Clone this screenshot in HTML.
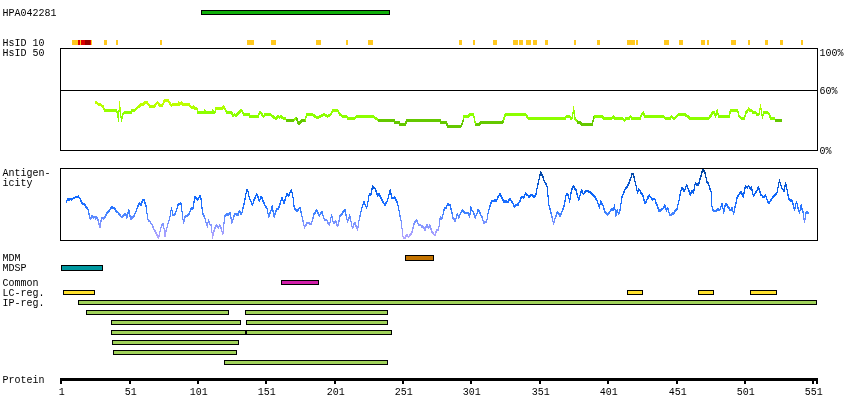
<!DOCTYPE html>
<html lang="en">
<head>
<meta charset="utf-8">
<title>HPA042281 protein plot</title>
<style>
html,body{margin:0;padding:0;background:#fff;}
body{width:850px;height:420px;overflow:hidden;position:relative;}
svg{position:absolute;left:0;top:0;display:block;}
text{font-family:"Liberation Mono","DejaVu Sans Mono",monospace;font-size:10px;fill:#000;letter-spacing:0px;}
</style>
</head>
<body>
<svg width="850" height="420" viewBox="0 0 850 420">
<defs>
<linearGradient id="bg" gradientUnits="userSpaceOnUse" x1="0" y1="168" x2="0" y2="240">
<stop offset="0" stop-color="#004196"/>
<stop offset="0.10" stop-color="#054BAF"/>
<stop offset="0.25" stop-color="#0A5ADC"/>
<stop offset="0.40" stop-color="#0F69FF"/>
<stop offset="0.54" stop-color="#2873FF"/>
<stop offset="0.61" stop-color="#3C82FF"/>
<stop offset="0.69" stop-color="#648CFF"/>
<stop offset="0.78" stop-color="#8296FF"/>
<stop offset="0.90" stop-color="#A5A0FF"/>
<stop offset="1" stop-color="#B4A5FF"/>
</linearGradient>
<linearGradient id="gg" gradientUnits="userSpaceOnUse" x1="0" y1="98" x2="0" y2="128">
<stop offset="0" stop-color="#C8FF00"/>
<stop offset="0.2" stop-color="#BEFF00"/>
<stop offset="0.36" stop-color="#AAFF00"/>
<stop offset="0.45" stop-color="#8CFF00"/>
<stop offset="1" stop-color="#8CFF00"/>
</linearGradient>
</defs>
<rect x="0" y="0" width="850" height="420" fill="#fff"/>
<g shape-rendering="crispEdges">

<rect x="72" y="40" width="6" height="5" fill="#FFC81E"/>
<rect x="78" y="40" width="2" height="5" fill="#DC0000"/>
<rect x="80" y="40" width="1" height="5" fill="#FFC81E"/>
<rect x="81" y="40" width="4" height="5" fill="#DC0000"/>
<rect x="85" y="40" width="5" height="5" fill="#960000"/>
<rect x="90" y="40" width="1" height="5" fill="#DC0000"/>
<rect x="91" y="40" width="1" height="5" fill="#FFC81E"/>
<rect x="104" y="40" width="3" height="5" fill="#FFC81E"/>
<rect x="116" y="40" width="2" height="5" fill="#FFC81E"/>
<rect x="160" y="40" width="2" height="5" fill="#FFC81E"/>
<rect x="247" y="40" width="7" height="5" fill="#FFC81E"/>
<rect x="271" y="40" width="5" height="5" fill="#FFC81E"/>
<rect x="316" y="40" width="5" height="5" fill="#FFC81E"/>
<rect x="346" y="40" width="2" height="5" fill="#FFC81E"/>
<rect x="368" y="40" width="5" height="5" fill="#FFC81E"/>
<rect x="459" y="40" width="3" height="5" fill="#FFC81E"/>
<rect x="473" y="40" width="2" height="5" fill="#FFC81E"/>
<rect x="493" y="40" width="4" height="5" fill="#FFC81E"/>
<rect x="513" y="40" width="5" height="5" fill="#FFC81E"/>
<rect x="519" y="40" width="4" height="5" fill="#FFC81E"/>
<rect x="526" y="40" width="5" height="5" fill="#FFC81E"/>
<rect x="533" y="40" width="4" height="5" fill="#FFC81E"/>
<rect x="545" y="40" width="3" height="5" fill="#FFC81E"/>
<rect x="574" y="40" width="2" height="5" fill="#FFC81E"/>
<rect x="597" y="40" width="3" height="5" fill="#FFC81E"/>
<rect x="627" y="40" width="8" height="5" fill="#FFC81E"/>
<rect x="636" y="40" width="2" height="5" fill="#FFC81E"/>
<rect x="664" y="40" width="5" height="5" fill="#FFC81E"/>
<rect x="679" y="40" width="4" height="5" fill="#FFC81E"/>
<rect x="701" y="40" width="4" height="5" fill="#FFC81E"/>
<rect x="707" y="40" width="2" height="5" fill="#FFC81E"/>
<rect x="731" y="40" width="5" height="5" fill="#FFC81E"/>
<rect x="748" y="40" width="2" height="5" fill="#FFC81E"/>
<rect x="765" y="40" width="3" height="5" fill="#FFC81E"/>
<rect x="780" y="40" width="3" height="5" fill="#FFC81E"/>
<rect x="801" y="40" width="2" height="5" fill="#FFC81E"/>


<rect x="60.5" y="48.5" width="757" height="102" fill="none" stroke="#000" stroke-width="1"/>
<rect x="60" y="90" width="758" height="1" fill="#000"/>
<rect x="60.5" y="168.5" width="757" height="72" fill="none" stroke="#000" stroke-width="1"/>


<rect x="201.5" y="10.5" width="188" height="4" fill="#0FAF0A" stroke="#000" stroke-width="1"/>
<rect x="405.5" y="255.5" width="28" height="5" fill="#C37300" stroke="#000" stroke-width="1"/>
<rect x="61.5" y="265.5" width="41" height="5" fill="#00989F" stroke="#000" stroke-width="1"/>
<rect x="281.5" y="280.5" width="37" height="4" fill="#D21EAA" stroke="#000" stroke-width="1"/>
<rect x="63.5" y="290.5" width="31" height="4" fill="#FFE12D" stroke="#000" stroke-width="1"/>
<rect x="627.5" y="290.5" width="15" height="4" fill="#FFE12D" stroke="#000" stroke-width="1"/>
<rect x="698.5" y="290.5" width="15" height="4" fill="#FFE12D" stroke="#000" stroke-width="1"/>
<rect x="750.5" y="290.5" width="26" height="4" fill="#FFE12D" stroke="#000" stroke-width="1"/>
<rect x="78.5" y="300.5" width="738" height="4" fill="#A0D25A" stroke="#000" stroke-width="1"/>
<rect x="86.5" y="310.5" width="142" height="4" fill="#A0D25A" stroke="#000" stroke-width="1"/>
<rect x="245.5" y="310.5" width="142" height="4" fill="#A0D25A" stroke="#000" stroke-width="1"/>
<rect x="111.5" y="320.5" width="129" height="4" fill="#A0D25A" stroke="#000" stroke-width="1"/>
<rect x="246.5" y="320.5" width="141" height="4" fill="#A0D25A" stroke="#000" stroke-width="1"/>
<rect x="111.5" y="330.5" width="134" height="4" fill="#A0D25A" stroke="#000" stroke-width="1"/>
<rect x="246.5" y="330.5" width="145" height="4" fill="#A0D25A" stroke="#000" stroke-width="1"/>
<rect x="112.5" y="340.5" width="126" height="4" fill="#A0D25A" stroke="#000" stroke-width="1"/>
<rect x="113.5" y="350.5" width="123" height="4" fill="#A0D25A" stroke="#000" stroke-width="1"/>
<rect x="224.5" y="360.5" width="163" height="4" fill="#A0D25A" stroke="#000" stroke-width="1"/>


<rect x="60" y="378" width="758" height="3" fill="#000"/>
<rect x="60" y="381" width="2" height="3" fill="#000"/>
<rect x="129" y="381" width="2" height="3" fill="#000"/>
<rect x="197" y="381" width="2" height="3" fill="#000"/>
<rect x="265" y="381" width="2" height="3" fill="#000"/>
<rect x="334" y="381" width="2" height="3" fill="#000"/>
<rect x="402" y="381" width="2" height="3" fill="#000"/>
<rect x="470" y="381" width="2" height="3" fill="#000"/>
<rect x="539" y="381" width="2" height="3" fill="#000"/>
<rect x="607" y="381" width="2" height="3" fill="#000"/>
<rect x="676" y="381" width="2" height="3" fill="#000"/>
<rect x="744" y="381" width="2" height="3" fill="#000"/>
<rect x="812" y="381" width="2" height="3" fill="#000"/>
<rect x="816" y="381" width="2" height="3" fill="#000"/>


<g fill="none" stroke-width="1" stroke-linejoin="bevel" transform="translate(0,-1)">
<polyline points="95.5,102 98,104 101,105 103.5,107 104.5,110.5 116,110.5 117.5,113 118.5,120.5 119.5,102.3 120.5,113 121.5,120.5 122.5,115 124,113 126,112.5 131,112.5 132,110.5 134.5,110.5 141,104.5 143,104.5 145,102.5 147,102.5 150,106.5 154,106.5 157.5,102.5 159.5,105 162.5,105 164.5,100.5 168,100.5 171.5,105.5 173,104.5 178,104.5 178.5,102.5 179.5,104.5 181.5,102.5 182.5,104.5 189,104.5 191,107 193,108 193.5,106.5 195,108.5 197,109 198,112.5 204,112.5 204.5,110.5 205.5,112.5 212,112.5 212.5,110.5 213.5,112.5 215,112.5 215.5,110 216,108.5 222.5,108.5 223.5,106.5 225,109 227,112.5 231.5,112.5 233,115.5 234.5,114.5 236,115.5 241.5,110 244,114.5 249,114.5 250,116.5 258,116.5 259.5,112.5 261,113 263.5,116.5 265,114.5 270.5,114.5 274.5,118 276.5,118 278.5,116 279.5,118 280.5,116 282.5,118 286,118.5" stroke="url(#gg)"/>
<polyline points="286,120.2 294,120.2" stroke="#64C800"/>
<polyline points="294,120 296.5,118" stroke="url(#gg)"/>
<polyline points="296.5,118 298.5,124 302,120.5 305.5,120.2" stroke="#64C800"/>
<polyline points="305.5,120 306.5,114.5 312.5,114.5 317,118 324,114.5 327.5,116.5 330.5,114.5 333,110.5 337.5,110.5 340,114.5 343,116.5 345,116.5 347,117 347.5,118.5 354.5,118.5 356.5,116.5 373.5,116.5 375.5,118.5 378,119.5" stroke="url(#gg)"/>
<polyline points="378,120.5 394,120.5 395,122.5 399,122.5 400,124.5 405.5,124.5 406.5,120.5 440,120.5 440.5,122.5 446.5,122.5 447.5,126.5 460.5,126.5 462.5,123.5 463.5,118" stroke="#64C800"/>
<polyline points="463.5,118 464,116.5 468.5,116.5 469.5,114.5 473.5,114.5 474.5,119 475.2,123" stroke="url(#gg)"/>
<polyline points="475.2,123 475.5,124.5 479.5,124.5 480.5,122.5 502.5,122.5 503.5,120.5" stroke="#64C800"/>
<polyline points="503.5,120.5 504.5,116.5 505.5,114.5 525.5,114.5 528.5,118.5 565,118.5 566.5,116.5 569.5,116.5 571,118.5 572,118.5 573,113 573.5,107 574.2,113 575,118.5 577,121" stroke="url(#gg)"/>
<polyline points="577,121 577.5,122.5 580.5,122.5 581.5,124.5 592.5,124.5 593,121 594,117.5" stroke="#64C800"/>
<polyline points="594,117.5 594.5,116.5 602.5,116.5 603.5,118.5 611.5,118.5 613.5,116.5 614.5,118.5 622.5,118.5 624.5,120.5 626,118.5 629,118.5 630.5,116.5 632,118.5 640,118.5 641.5,114.5 643.5,112.5 644.5,116.5 663.5,116.5 665.5,118.5 670,118.5 671.5,116.5 674,118.8 678.5,114.5 685,114.5 685,115.5 688.5,116.5 689.5,118.5 708.5,118.5 711,115.5 712.5,112.5 714.5,112.5 715.5,116.5 717.2,110 718.5,116.5 729,116.5 730.5,110.5 737.5,110.5 739,116 741.5,118.5 744.5,118.5 745.5,113 748,110.5 748.5,108 750,110.5 751.5,110.5 753,112.5 755.5,112.5 757,114.5 759,114.5 759.8,110 760.5,105.5 761.2,110 762.5,117.5 763.5,112.5 767.5,112.5 769.5,114.5 770.5,118.5 775,118.5" stroke="url(#gg)"/>
<polyline points="775,120.5 782,120.5" stroke="#64C800"/>
</g>
<g fill="none" stroke-width="1" stroke-linejoin="bevel" transform="translate(0,0)">
<polyline points="95.5,102 98,104 101,105 103.5,107 104.5,110.5 116,110.5 117.5,113 118.5,120.5 119.5,102.3 120.5,113 121.5,120.5 122.5,115 124,113 126,112.5 131,112.5 132,110.5 134.5,110.5 141,104.5 143,104.5 145,102.5 147,102.5 150,106.5 154,106.5 157.5,102.5 159.5,105 162.5,105 164.5,100.5 168,100.5 171.5,105.5 173,104.5 178,104.5 178.5,102.5 179.5,104.5 181.5,102.5 182.5,104.5 189,104.5 191,107 193,108 193.5,106.5 195,108.5 197,109 198,112.5 204,112.5 204.5,110.5 205.5,112.5 212,112.5 212.5,110.5 213.5,112.5 215,112.5 215.5,110 216,108.5 222.5,108.5 223.5,106.5 225,109 227,112.5 231.5,112.5 233,115.5 234.5,114.5 236,115.5 241.5,110 244,114.5 249,114.5 250,116.5 258,116.5 259.5,112.5 261,113 263.5,116.5 265,114.5 270.5,114.5 274.5,118 276.5,118 278.5,116 279.5,118 280.5,116 282.5,118 286,118.5" stroke="url(#gg)"/>
<polyline points="286,120.2 294,120.2" stroke="#64C800"/>
<polyline points="294,120 296.5,118" stroke="url(#gg)"/>
<polyline points="296.5,118 298.5,124 302,120.5 305.5,120.2" stroke="#64C800"/>
<polyline points="305.5,120 306.5,114.5 312.5,114.5 317,118 324,114.5 327.5,116.5 330.5,114.5 333,110.5 337.5,110.5 340,114.5 343,116.5 345,116.5 347,117 347.5,118.5 354.5,118.5 356.5,116.5 373.5,116.5 375.5,118.5 378,119.5" stroke="url(#gg)"/>
<polyline points="378,120.5 394,120.5 395,122.5 399,122.5 400,124.5 405.5,124.5 406.5,120.5 440,120.5 440.5,122.5 446.5,122.5 447.5,126.5 460.5,126.5 462.5,123.5 463.5,118" stroke="#64C800"/>
<polyline points="463.5,118 464,116.5 468.5,116.5 469.5,114.5 473.5,114.5 474.5,119 475.2,123" stroke="url(#gg)"/>
<polyline points="475.2,123 475.5,124.5 479.5,124.5 480.5,122.5 502.5,122.5 503.5,120.5" stroke="#64C800"/>
<polyline points="503.5,120.5 504.5,116.5 505.5,114.5 525.5,114.5 528.5,118.5 565,118.5 566.5,116.5 569.5,116.5 571,118.5 572,118.5 573,113 573.5,107 574.2,113 575,118.5 577,121" stroke="url(#gg)"/>
<polyline points="577,121 577.5,122.5 580.5,122.5 581.5,124.5 592.5,124.5 593,121 594,117.5" stroke="#64C800"/>
<polyline points="594,117.5 594.5,116.5 602.5,116.5 603.5,118.5 611.5,118.5 613.5,116.5 614.5,118.5 622.5,118.5 624.5,120.5 626,118.5 629,118.5 630.5,116.5 632,118.5 640,118.5 641.5,114.5 643.5,112.5 644.5,116.5 663.5,116.5 665.5,118.5 670,118.5 671.5,116.5 674,118.8 678.5,114.5 685,114.5 685,115.5 688.5,116.5 689.5,118.5 708.5,118.5 711,115.5 712.5,112.5 714.5,112.5 715.5,116.5 717.2,110 718.5,116.5 729,116.5 730.5,110.5 737.5,110.5 739,116 741.5,118.5 744.5,118.5 745.5,113 748,110.5 748.5,108 750,110.5 751.5,110.5 753,112.5 755.5,112.5 757,114.5 759,114.5 759.8,110 760.5,105.5 761.2,110 762.5,117.5 763.5,112.5 767.5,112.5 769.5,114.5 770.5,118.5 775,118.5" stroke="url(#gg)"/>
<polyline points="775,120.5 782,120.5" stroke="#64C800"/>
</g>
<g fill="none" stroke-width="1" stroke-linejoin="bevel" transform="translate(0,1)">
<polyline points="95.5,102 98,104 101,105 103.5,107 104.5,110.5 116,110.5 117.5,113 118.5,120.5 119.5,102.3 120.5,113 121.5,120.5 122.5,115 124,113 126,112.5 131,112.5 132,110.5 134.5,110.5 141,104.5 143,104.5 145,102.5 147,102.5 150,106.5 154,106.5 157.5,102.5 159.5,105 162.5,105 164.5,100.5 168,100.5 171.5,105.5 173,104.5 178,104.5 178.5,102.5 179.5,104.5 181.5,102.5 182.5,104.5 189,104.5 191,107 193,108 193.5,106.5 195,108.5 197,109 198,112.5 204,112.5 204.5,110.5 205.5,112.5 212,112.5 212.5,110.5 213.5,112.5 215,112.5 215.5,110 216,108.5 222.5,108.5 223.5,106.5 225,109 227,112.5 231.5,112.5 233,115.5 234.5,114.5 236,115.5 241.5,110 244,114.5 249,114.5 250,116.5 258,116.5 259.5,112.5 261,113 263.5,116.5 265,114.5 270.5,114.5 274.5,118 276.5,118 278.5,116 279.5,118 280.5,116 282.5,118 286,118.5" stroke="url(#gg)"/>
<polyline points="286,120.2 294,120.2" stroke="#64C800"/>
<polyline points="294,120 296.5,118" stroke="url(#gg)"/>
<polyline points="296.5,118 298.5,124 302,120.5 305.5,120.2" stroke="#64C800"/>
<polyline points="305.5,120 306.5,114.5 312.5,114.5 317,118 324,114.5 327.5,116.5 330.5,114.5 333,110.5 337.5,110.5 340,114.5 343,116.5 345,116.5 347,117 347.5,118.5 354.5,118.5 356.5,116.5 373.5,116.5 375.5,118.5 378,119.5" stroke="url(#gg)"/>
<polyline points="378,120.5 394,120.5 395,122.5 399,122.5 400,124.5 405.5,124.5 406.5,120.5 440,120.5 440.5,122.5 446.5,122.5 447.5,126.5 460.5,126.5 462.5,123.5 463.5,118" stroke="#64C800"/>
<polyline points="463.5,118 464,116.5 468.5,116.5 469.5,114.5 473.5,114.5 474.5,119 475.2,123" stroke="url(#gg)"/>
<polyline points="475.2,123 475.5,124.5 479.5,124.5 480.5,122.5 502.5,122.5 503.5,120.5" stroke="#64C800"/>
<polyline points="503.5,120.5 504.5,116.5 505.5,114.5 525.5,114.5 528.5,118.5 565,118.5 566.5,116.5 569.5,116.5 571,118.5 572,118.5 573,113 573.5,107 574.2,113 575,118.5 577,121" stroke="url(#gg)"/>
<polyline points="577,121 577.5,122.5 580.5,122.5 581.5,124.5 592.5,124.5 593,121 594,117.5" stroke="#64C800"/>
<polyline points="594,117.5 594.5,116.5 602.5,116.5 603.5,118.5 611.5,118.5 613.5,116.5 614.5,118.5 622.5,118.5 624.5,120.5 626,118.5 629,118.5 630.5,116.5 632,118.5 640,118.5 641.5,114.5 643.5,112.5 644.5,116.5 663.5,116.5 665.5,118.5 670,118.5 671.5,116.5 674,118.8 678.5,114.5 685,114.5 685,115.5 688.5,116.5 689.5,118.5 708.5,118.5 711,115.5 712.5,112.5 714.5,112.5 715.5,116.5 717.2,110 718.5,116.5 729,116.5 730.5,110.5 737.5,110.5 739,116 741.5,118.5 744.5,118.5 745.5,113 748,110.5 748.5,108 750,110.5 751.5,110.5 753,112.5 755.5,112.5 757,114.5 759,114.5 759.8,110 760.5,105.5 761.2,110 762.5,117.5 763.5,112.5 767.5,112.5 769.5,114.5 770.5,118.5 775,118.5" stroke="url(#gg)"/>
<polyline points="775,120.5 782,120.5" stroke="#64C800"/>
</g>


<polyline points="66.3,201.6 66.9,200.2 67.5,199.4 68.3,198.7 69.2,199.5 70.0,198.4 70.9,199.1 71.7,199 72.7,198.4 73.6,197.4 74.6,197.8 75.6,196.6 76.5,196.9 77.5,196.6 78.3,196.2 79.2,197.4 80.0,198.3 80.9,200.6 81.7,202.4 82.7,203.8 83.7,203.4 84.7,204.4 85.6,206.0 86.6,207.4 87.6,207.4 88.4,211.2 89.2,214.5 90,218.3 90.9,218.3 91.7,215.8 92.6,215.8 93.4,217.1 94.2,216.7 95.1,217.0 95.9,218.3 96.8,216.6 97.6,218.4 98.4,221.3 99.3,224.7 100.1,226.6 100.9,221.4 101.8,217.4 102.5,217.8 103.1,218.3 103.8,218.3 104.7,216.8 105.6,215.8 106.5,213.6 107.4,212.3 108.2,211.3 109.1,210.8 110.0,209.1 110.9,207.6 111.8,206.6 112.6,207.3 113.5,207.6 114.3,208.3 115.2,209.0 116.2,210.9 117.1,211.8 118.0,212.0 119.0,213.6 119.9,214.6 120.9,216.2 121.8,216.6 122.7,216.2 123.5,214.6 124.3,215.0 125.2,213.3 126.0,214.7 126.8,217.4 127.5,214.5 128.1,212.3 128.8,209.1 129.7,213.5 130.5,219.1 131.2,218.5 132.0,217.0 132.8,217.5 133.5,216.6 134.5,214.7 135.5,212.0 136.4,210.2 137.4,206.8 138.4,205.1 139.4,202.4 140.2,203.8 141,204.9 141.8,202.5 142.7,199.9 143.6,199.8 144.4,199.9 145.2,203.5 146,205.8 146.7,211.0 147.3,214.6 148,219.1 149.0,220.6 149.9,220.8 150.9,223.2 151.9,224.1 152.9,226.4 153.8,229.0 154.8,230.8 155.7,231.8 156.7,234.0 157.6,236.6 158.6,238.3 159.4,233.5 160.3,230.4 161.1,226.6 161.8,224.9 162.5,223.7 163.2,223.3 164.1,228.8 164.9,235.8 165.6,233.5 166.2,229.6 166.9,227.5 167.7,224.2 168.6,221.7 169.4,219.1 170.1,215.9 170.9,210.5 171.6,207.4 172.2,211.1 172.8,214.9 173.6,214.5 174.5,214.5 175.3,213.3 176.1,211.1 177.0,208.4 177.8,204.9 178.6,204.1 179.4,203.9 180.3,203.4 181.1,203.2 181.9,210.6 182.8,217.4 183.6,223.3 184.5,217.4 185.3,216.3 186.1,215.8 187.0,215.4 187.8,214.9 188.6,214.9 189.4,212.7 190.3,210.7 191.1,208.3 191.9,208.3 192.8,209.1 193.5,204.0 194.3,200.6 195,196.6 195.7,197.2 196.3,198.4 197,199.1 197.8,199.1 198.7,197.8 199.5,196.6 200,195.7 200.7,197.8 201.3,199.9 201.9,206.4 202.5,212.4 203.3,214.7 204.2,215.5 205,218.3 205.8,221.8 206.7,224.3 207.5,226.6 208.4,219.1 209.2,222.3 210,224.1 210.7,225.1 211.4,225 211.9,231.1 212.5,237.5 213.3,233.6 214.2,230 214.9,227.6 215.5,226.9 216.2,225 216.9,225.0 217.7,225.9 218.4,227.5 219.2,225.7 220,225 221.0,227.5 221.9,230.8 222.9,234.2 223.8,224.6 224.7,216.6 225.4,214.9 226.0,214.3 226.7,214.1 227.6,213.8 228.4,214.9 229.2,213.6 230.1,212.8 230.9,216.8 231.7,222.5 232.4,221.1 233.2,218.5 233.9,215.6 234.7,214.1 235.5,213.7 236.4,214.0 237.2,214.1 238.1,214.4 238.9,211.9 239.8,210.8 240.6,212.9 241.4,213.8 242.4,210.9 243.3,206.1 244.3,202.4 245.1,198.0 246.0,193.0 246.8,189.4 247.6,190.2 248.4,192.4 249.3,198.2 250.1,199.5 250.9,200.9 251.8,203.4 252.6,204.4 253.6,201.0 254.6,197.9 255.5,196.8 256.5,193.2 257.4,195.8 258.4,197.6 259.3,200.7 260.0,199.4 260.8,197.1 261.5,196.6 262.4,198.9 263.4,201.9 264.3,203.2 265.1,205.3 266.0,206.4 266.8,207.4 267.5,210.2 268.1,213.6 268.8,217.1 269.6,213.7 270.5,211.9 271.4,208.7 272.2,205.8 272.9,210.2 273.6,213.2 274.3,217.4 275.0,213.9 275.8,211.9 276.5,208.3 277.2,209.0 277.8,208.6 278.5,207.8 279.4,205.7 280.2,203.0 281.0,200.2 281.9,197.1 282.6,198.6 283.3,201.2 284,203.2 285.0,199.9 285.9,196.3 286.9,194.1 287.7,194.1 288.5,195.7 289.5,193.4 290.4,191.4 291.4,189.9 292.0,192.3 292.7,194.1 293.5,202.0 294.4,208.3 295.2,208.7 296.1,210.2 296.9,209.9 297.6,210.2 298.4,209.5 299.1,207.8 299.9,207.4 300.6,209.7 301.2,212.5 301.9,215.8 302.7,219.2 303.6,223.1 304.4,227.5 305.2,225.9 306.1,224.6 306.9,222.1 307.8,223.0 308.8,222.5 309.7,223.1 310.7,223.6 311.6,223.3 312.4,219.4 313.1,217.3 313.9,213.8 314.8,213.0 315.7,211.2 316.6,209.1 317.5,211.8 318.5,213.5 319.4,215.8 320.1,213.7 320.9,213.2 321.6,211.1 322.5,213.0 323.3,216.1 324.1,218.6 325,220 325.7,219.8 326.3,219.8 327,220 327.8,222.5 328.7,223.7 329.5,225 330.2,221.0 330.9,217.6 331.6,214.9 332.3,216.8 332.9,220.7 333.6,222.5 334.5,222.2 335.3,220.8 336.1,221.8 337.0,224.7 337.8,225.8 338.5,223.3 339.3,219.4 340,215.8 340.8,214.5 341.7,213.9 342.5,212.8 343.4,211.2 344.4,210.0 345.3,209.9 346.0,214.6 346.8,218.0 347.5,221.6 348.2,219.4 349.0,217.9 349.7,214.9 350.6,219.2 351.6,224.5 352.5,228.3 353.2,226.8 354.0,223.6 354.7,222.1 355.6,224.3 356.6,227.0 357.5,230 358.4,224.1 359.2,219.1 360.0,215.7 360.9,211.5 361.7,208.3 362.5,205.8 363.4,202.8 364.2,201.1 365.0,204.2 365.9,205.6 366.7,208.3 367.5,203.5 368.4,199.0 369.2,194.1 370.0,194.8 370.9,194.1 371.8,189.8 372.6,185.7 373.5,187.5 374.5,187.7 375.4,188.7 376.1,191.1 376.9,193.4 377.6,195.7 378.5,194.0 379.3,194.1 380.1,195.9 381.0,197.4 381.8,199.9 382.6,200.3 383.3,202.9 384.1,203.1 384.8,204.9 385.7,203.2 386.7,202.0 387.6,199.9 388.4,196.7 389.3,192.9 390.1,189.9 391.0,193.7 391.8,197.4 392.6,197.6 393.5,198.1 394.3,196.9 395.1,197.7 395.9,199.6 396.8,200.9 397.6,203.2 398.5,207.0 399.3,211.6 400.0,215.7 400.8,218.9 401.5,222.5 402.1,229.3 402.6,235.8 403.5,236.8 404.3,237.7 405.2,237.5 406.0,235.7 406.8,234.2 407.6,235.7 408.5,236.7 409.3,235.7 410.1,234.6 411.0,233.9 411.8,232.5 412.6,229.1 413.5,225.9 414.3,222.5 415.0,221.3 415.8,221.0 416.5,219.1 417.2,221.0 417.8,222.9 418.5,223.8 419.3,225.0 420.2,224.2 421.0,225.1 421.9,226.2 422.7,225.8 423.4,227.8 424.2,227.9 424.9,230 425.6,227.4 426.2,226.0 426.9,224.1 427.7,225.4 428.5,228.3 429.2,226.2 429.9,225 430.7,227.1 431.5,230.8 432.4,232.2 433.4,233.4 434.3,234.7 435.2,235 436.0,231.9 436.9,230 437.8,229.9 438.6,229.1 439.4,223.5 440.2,217.4 441.0,217.2 441.9,218.3 442.6,216.2 443.2,213.5 443.9,209.9 444.9,207.9 445.9,207.8 446.8,205.4 447.8,204.1 448.6,204.1 449.5,205.0 450.3,204.1 451.1,209.1 452.0,212.4 452.8,217.4 453.6,218.4 454.5,219.7 455.3,220.8 456.0,218.0 456.6,215.3 457.3,213.3 458.0,215.0 458.6,217.4 459.5,215.9 460.5,212.8 461.4,211.9 462.3,209.9 463.0,210.8 463.8,211.0 464.5,212.8 465.4,212.4 466.4,212.8 467.4,212.5 468.3,212.4 468.9,214.1 469.5,217.4 470.1,212.9 470.6,206.6 471.3,208.5 472.1,210.2 472.8,210.8 473.6,212.6 474.5,215.4 475.3,218.3 476.1,214.7 477.0,213.2 477.8,209.9 478.5,210.5 479.3,211.2 480,212.8 480.7,213.9 481.3,216.1 482,216.6 482.9,220.1 483.7,222.5 484.6,221.9 485.4,221.6 486.3,222.1 487.0,219.1 487.7,214.7 488.4,210.8 489.3,208.6 490.2,204.9 491.1,202.2 492,200.4 493.0,200.8 493.9,200.4 494.9,199.9 495.9,200.7 496.8,199.6 497.8,197.2 498.8,195.6 499.7,193.2 500.6,194.3 501.5,197.6 502.5,198.0 503.4,200.7 504.2,201.5 505.1,201.0 505.9,201.0 506.8,201.5 507.6,201.6 508.3,201.5 509.0,199.5 509.7,199.1 510.5,199.3 511.3,200.8 512.1,201.6 512.8,202.8 513.5,204.2 514.2,206.6 515.0,205.5 515.9,204.8 516.7,204.6 517.6,204.3 518.4,204.1 519.2,201.9 520.1,200.8 520.9,198.1 521.8,196.6 522.5,196.9 523.1,196.6 523.8,197.4 524.6,195.0 525.4,193.2 526.2,193.2 527.1,194.5 527.9,194.9 528.8,196.6 529.7,196.3 530.6,195.2 531.5,194.4 532.2,194.6 532.8,195.8 533.5,196.6 534.2,197.1 534.8,195.3 535.5,195.7 536.2,192.9 536.9,188.9 537.6,185.7 538.6,181.1 539.5,177.2 540.5,172 541.2,173.0 541.9,174.5 542.6,175.7 543.5,178.3 544.3,181.0 545.2,182.4 545.9,183.5 546.5,185.7 547.2,186.5 548.0,195.7 548.8,204.1 549.5,207.1 550.3,209.5 551,212.4 551.8,216.0 552.7,219.4 553.5,224.1 554.4,220.3 555.4,217.1 556.3,215.2 557.2,211.6 558.1,212.6 559.0,213.8 559.9,215.8 560.6,213.7 561.2,213.6 561.9,211.6 562.7,209.8 563.6,206.9 564.4,204.1 565.1,200.1 565.8,196.4 566.5,193.2 567.4,193.7 568.2,194.9 569.0,198.2 569.7,201.6 570.6,195.1 571.5,189.9 572.2,188.3 572.8,186.5 573.5,185.4 574.4,187.7 575.2,189.3 576.1,189.9 576.9,193.3 577.8,196.1 578.6,199.9 579.4,198.2 580.1,194.6 580.9,192.1 581.6,189.9 582.4,191.1 583.2,194.1 584.2,192.8 585.1,191.8 586.1,190.7 586.9,190.8 587.8,190.4 588.6,191.1 589.4,191.9 590.2,191.7 591.1,192.9 591.9,194.1 592.7,194.3 593.6,195.9 594.4,196.2 595.2,197.1 596.1,198.6 596.9,199.9 597.7,201.9 598.6,205.1 599.4,207.4 600.0,204.1 600.6,200.7 601.5,202.9 602.4,204.4 603.3,205.8 604.1,209.1 605,211.6 605.9,213.2 606.9,213.3 607.8,214.4 608.6,212.9 609.5,212.8 610.3,210.1 611.2,209.9 612,208.3 612.8,209.4 613.6,209.9 614.5,204.1 615.0,209.1 615.6,215.8 616.5,213.1 617.3,209.1 618.0,212.3 618.7,214.1 619.5,211.5 620.3,208.5 621.0,203.4 621.7,197.4 622.5,195.9 623.4,192.6 624.2,191.1 625,189 625.8,187.7 626.7,187.0 627.5,185.6 628.4,184.3 629.2,182.4 630.0,179.8 630.9,177.5 631.7,174 632.5,173.9 633.4,173.2 634.1,176.9 634.7,179.4 635.4,183.2 636.1,185.7 636.8,189.2 637.5,193.2 638.1,190.8 638.7,189 639.7,189.6 640.7,192.2 641.6,192.9 642.6,194.1 643.4,197.4 644.3,200.4 645.1,203.2 645.9,201.9 646.7,199.9 647.6,197.3 648.4,197.1 649.2,194.9 650.1,196.4 650.9,197.0 651.8,198.1 652.6,199.1 653.4,198.9 654.2,198.2 655.1,199.4 655.9,202.6 656.8,204.1 657.5,205.9 658.1,207.8 658.8,210.8 659.8,209.9 660.7,210.2 661.6,208.8 662.6,208.8 663.3,207.8 664.1,206.7 664.8,204.4 665.6,207.6 666.4,210.8 667.0,208.9 667.6,207.4 668.3,209.7 669.1,212.4 669.8,214.4 670.6,214.7 671.4,214.2 672.2,214.0 673.0,212.8 673.8,213.3 674.6,211.4 675.5,210.4 676.3,210.0 677.1,208.3 677.8,204.9 678.6,202.3 679.3,199.1 680.1,194.3 681.0,190.5 681.8,187.4 682.6,188.1 683.5,189.9 684.3,190.7 685.0,189.1 685.8,187.1 686.5,184.9 687.2,185.9 687.8,187.7 688.5,189 689.4,191.9 690.2,194.9 691.0,192.7 691.8,190.7 692.5,190.9 693.2,192.4 694.0,189.8 694.7,185.2 695.5,182.4 696.2,183.9 697.0,184.4 697.8,183.4 698.5,184.9 699.2,182.0 699.8,179.9 700.5,176.5 701.2,175.1 702.0,171.9 702.7,169.8 703.4,170.2 704.2,170.9 704.9,172.3 705.6,176.2 706.2,177.9 706.9,181.5 707.6,182.8 708.2,183.1 708.9,184.9 709.6,186.9 710.3,189.6 711,190.7 711.6,199.2 712.2,209.1 713.1,210.2 714.0,210.2 714.9,210.8 715.8,210.8 716.8,209.8 717.7,208.8 718.4,208.5 719.2,209.9 719.9,209.4 720.7,207.3 721.4,204.4 722.2,203.2 722.9,207.1 723.6,212.8 724.3,209.6 724.9,206.3 725.6,203.2 726.3,204.0 727.1,204.8 727.8,206.6 728.6,207.4 729.5,208.5 730.3,209.9 731.1,209.3 731.9,207.4 732.8,209.9 733.6,214.1 734.5,210.0 735.3,204.9 736.0,202.7 736.6,198.7 737.3,196.6 738.1,196.0 739.0,194.2 739.8,193.2 740.6,191.1 741.5,192.6 742.4,194.5 743.3,196.6 744.0,192.8 744.6,190.2 745.3,185.7 746.0,186.4 746.6,186.6 747.3,187.4 748.0,186.3 748.6,185.4 749.5,186.8 750.3,189 751.1,187 751.8,189.0 752.6,191.9 753.3,195.4 754.3,194.7 755.2,192.5 756.2,191.6 756.9,190.8 757.5,187.9 758.2,186.8 759.2,189.1 760.1,192.2 761.1,194.9 761.8,194.9 762.4,195.8 763.1,196.6 763.9,196.6 764.8,195.6 765.6,194.1 766.3,197.2 767.1,199.3 767.8,201.6 768.6,202.2 769.3,202.1 770.1,201.1 770.9,200.1 771.7,199.2 772.4,196.9 773.2,196.6 774.0,196.0 774.8,194.5 775.7,194.1 776.5,192.9 777.3,191.6 778.0,187.3 778.8,183.0 779.5,179.9 780.2,183.2 780.8,184.2 781.5,187.4 782.3,188.4 783.2,189.3 784,190.7 784.9,186.3 785.7,182.7 786.5,187.1 787.4,190.7 788.2,195.8 789,199.1 789.9,199.1 790.7,200.2 791.5,199.9 792.4,200.7 793.1,203.9 793.8,206.6 794.5,209.9 795.2,206.5 795.8,203.8 796.5,201.6 797.2,203.9 798.0,207.9 798.8,210.0 799.5,212.8 800.4,208.3 801.2,204.9 802.0,208.6 802.9,210.8 803.8,217.3 804.6,222.1 805.2,217.4 805.7,212.8 806.5,212.2 807.2,212.2 808.0,212.1 808.7,212.8" fill="none" stroke="url(#bg)" stroke-width="1" stroke-linejoin="bevel" transform="translate(0,-0.35)"/>
<polyline points="66.3,201.6 66.9,200.2 67.5,199.4 68.3,198.7 69.2,199.5 70.0,198.4 70.9,199.1 71.7,199 72.7,198.4 73.6,197.4 74.6,197.8 75.6,196.6 76.5,196.9 77.5,196.6 78.3,196.2 79.2,197.4 80.0,198.3 80.9,200.6 81.7,202.4 82.7,203.8 83.7,203.4 84.7,204.4 85.6,206.0 86.6,207.4 87.6,207.4 88.4,211.2 89.2,214.5 90,218.3 90.9,218.3 91.7,215.8 92.6,215.8 93.4,217.1 94.2,216.7 95.1,217.0 95.9,218.3 96.8,216.6 97.6,218.4 98.4,221.3 99.3,224.7 100.1,226.6 100.9,221.4 101.8,217.4 102.5,217.8 103.1,218.3 103.8,218.3 104.7,216.8 105.6,215.8 106.5,213.6 107.4,212.3 108.2,211.3 109.1,210.8 110.0,209.1 110.9,207.6 111.8,206.6 112.6,207.3 113.5,207.6 114.3,208.3 115.2,209.0 116.2,210.9 117.1,211.8 118.0,212.0 119.0,213.6 119.9,214.6 120.9,216.2 121.8,216.6 122.7,216.2 123.5,214.6 124.3,215.0 125.2,213.3 126.0,214.7 126.8,217.4 127.5,214.5 128.1,212.3 128.8,209.1 129.7,213.5 130.5,219.1 131.2,218.5 132.0,217.0 132.8,217.5 133.5,216.6 134.5,214.7 135.5,212.0 136.4,210.2 137.4,206.8 138.4,205.1 139.4,202.4 140.2,203.8 141,204.9 141.8,202.5 142.7,199.9 143.6,199.8 144.4,199.9 145.2,203.5 146,205.8 146.7,211.0 147.3,214.6 148,219.1 149.0,220.6 149.9,220.8 150.9,223.2 151.9,224.1 152.9,226.4 153.8,229.0 154.8,230.8 155.7,231.8 156.7,234.0 157.6,236.6 158.6,238.3 159.4,233.5 160.3,230.4 161.1,226.6 161.8,224.9 162.5,223.7 163.2,223.3 164.1,228.8 164.9,235.8 165.6,233.5 166.2,229.6 166.9,227.5 167.7,224.2 168.6,221.7 169.4,219.1 170.1,215.9 170.9,210.5 171.6,207.4 172.2,211.1 172.8,214.9 173.6,214.5 174.5,214.5 175.3,213.3 176.1,211.1 177.0,208.4 177.8,204.9 178.6,204.1 179.4,203.9 180.3,203.4 181.1,203.2 181.9,210.6 182.8,217.4 183.6,223.3 184.5,217.4 185.3,216.3 186.1,215.8 187.0,215.4 187.8,214.9 188.6,214.9 189.4,212.7 190.3,210.7 191.1,208.3 191.9,208.3 192.8,209.1 193.5,204.0 194.3,200.6 195,196.6 195.7,197.2 196.3,198.4 197,199.1 197.8,199.1 198.7,197.8 199.5,196.6 200,195.7 200.7,197.8 201.3,199.9 201.9,206.4 202.5,212.4 203.3,214.7 204.2,215.5 205,218.3 205.8,221.8 206.7,224.3 207.5,226.6 208.4,219.1 209.2,222.3 210,224.1 210.7,225.1 211.4,225 211.9,231.1 212.5,237.5 213.3,233.6 214.2,230 214.9,227.6 215.5,226.9 216.2,225 216.9,225.0 217.7,225.9 218.4,227.5 219.2,225.7 220,225 221.0,227.5 221.9,230.8 222.9,234.2 223.8,224.6 224.7,216.6 225.4,214.9 226.0,214.3 226.7,214.1 227.6,213.8 228.4,214.9 229.2,213.6 230.1,212.8 230.9,216.8 231.7,222.5 232.4,221.1 233.2,218.5 233.9,215.6 234.7,214.1 235.5,213.7 236.4,214.0 237.2,214.1 238.1,214.4 238.9,211.9 239.8,210.8 240.6,212.9 241.4,213.8 242.4,210.9 243.3,206.1 244.3,202.4 245.1,198.0 246.0,193.0 246.8,189.4 247.6,190.2 248.4,192.4 249.3,198.2 250.1,199.5 250.9,200.9 251.8,203.4 252.6,204.4 253.6,201.0 254.6,197.9 255.5,196.8 256.5,193.2 257.4,195.8 258.4,197.6 259.3,200.7 260.0,199.4 260.8,197.1 261.5,196.6 262.4,198.9 263.4,201.9 264.3,203.2 265.1,205.3 266.0,206.4 266.8,207.4 267.5,210.2 268.1,213.6 268.8,217.1 269.6,213.7 270.5,211.9 271.4,208.7 272.2,205.8 272.9,210.2 273.6,213.2 274.3,217.4 275.0,213.9 275.8,211.9 276.5,208.3 277.2,209.0 277.8,208.6 278.5,207.8 279.4,205.7 280.2,203.0 281.0,200.2 281.9,197.1 282.6,198.6 283.3,201.2 284,203.2 285.0,199.9 285.9,196.3 286.9,194.1 287.7,194.1 288.5,195.7 289.5,193.4 290.4,191.4 291.4,189.9 292.0,192.3 292.7,194.1 293.5,202.0 294.4,208.3 295.2,208.7 296.1,210.2 296.9,209.9 297.6,210.2 298.4,209.5 299.1,207.8 299.9,207.4 300.6,209.7 301.2,212.5 301.9,215.8 302.7,219.2 303.6,223.1 304.4,227.5 305.2,225.9 306.1,224.6 306.9,222.1 307.8,223.0 308.8,222.5 309.7,223.1 310.7,223.6 311.6,223.3 312.4,219.4 313.1,217.3 313.9,213.8 314.8,213.0 315.7,211.2 316.6,209.1 317.5,211.8 318.5,213.5 319.4,215.8 320.1,213.7 320.9,213.2 321.6,211.1 322.5,213.0 323.3,216.1 324.1,218.6 325,220 325.7,219.8 326.3,219.8 327,220 327.8,222.5 328.7,223.7 329.5,225 330.2,221.0 330.9,217.6 331.6,214.9 332.3,216.8 332.9,220.7 333.6,222.5 334.5,222.2 335.3,220.8 336.1,221.8 337.0,224.7 337.8,225.8 338.5,223.3 339.3,219.4 340,215.8 340.8,214.5 341.7,213.9 342.5,212.8 343.4,211.2 344.4,210.0 345.3,209.9 346.0,214.6 346.8,218.0 347.5,221.6 348.2,219.4 349.0,217.9 349.7,214.9 350.6,219.2 351.6,224.5 352.5,228.3 353.2,226.8 354.0,223.6 354.7,222.1 355.6,224.3 356.6,227.0 357.5,230 358.4,224.1 359.2,219.1 360.0,215.7 360.9,211.5 361.7,208.3 362.5,205.8 363.4,202.8 364.2,201.1 365.0,204.2 365.9,205.6 366.7,208.3 367.5,203.5 368.4,199.0 369.2,194.1 370.0,194.8 370.9,194.1 371.8,189.8 372.6,185.7 373.5,187.5 374.5,187.7 375.4,188.7 376.1,191.1 376.9,193.4 377.6,195.7 378.5,194.0 379.3,194.1 380.1,195.9 381.0,197.4 381.8,199.9 382.6,200.3 383.3,202.9 384.1,203.1 384.8,204.9 385.7,203.2 386.7,202.0 387.6,199.9 388.4,196.7 389.3,192.9 390.1,189.9 391.0,193.7 391.8,197.4 392.6,197.6 393.5,198.1 394.3,196.9 395.1,197.7 395.9,199.6 396.8,200.9 397.6,203.2 398.5,207.0 399.3,211.6 400.0,215.7 400.8,218.9 401.5,222.5 402.1,229.3 402.6,235.8 403.5,236.8 404.3,237.7 405.2,237.5 406.0,235.7 406.8,234.2 407.6,235.7 408.5,236.7 409.3,235.7 410.1,234.6 411.0,233.9 411.8,232.5 412.6,229.1 413.5,225.9 414.3,222.5 415.0,221.3 415.8,221.0 416.5,219.1 417.2,221.0 417.8,222.9 418.5,223.8 419.3,225.0 420.2,224.2 421.0,225.1 421.9,226.2 422.7,225.8 423.4,227.8 424.2,227.9 424.9,230 425.6,227.4 426.2,226.0 426.9,224.1 427.7,225.4 428.5,228.3 429.2,226.2 429.9,225 430.7,227.1 431.5,230.8 432.4,232.2 433.4,233.4 434.3,234.7 435.2,235 436.0,231.9 436.9,230 437.8,229.9 438.6,229.1 439.4,223.5 440.2,217.4 441.0,217.2 441.9,218.3 442.6,216.2 443.2,213.5 443.9,209.9 444.9,207.9 445.9,207.8 446.8,205.4 447.8,204.1 448.6,204.1 449.5,205.0 450.3,204.1 451.1,209.1 452.0,212.4 452.8,217.4 453.6,218.4 454.5,219.7 455.3,220.8 456.0,218.0 456.6,215.3 457.3,213.3 458.0,215.0 458.6,217.4 459.5,215.9 460.5,212.8 461.4,211.9 462.3,209.9 463.0,210.8 463.8,211.0 464.5,212.8 465.4,212.4 466.4,212.8 467.4,212.5 468.3,212.4 468.9,214.1 469.5,217.4 470.1,212.9 470.6,206.6 471.3,208.5 472.1,210.2 472.8,210.8 473.6,212.6 474.5,215.4 475.3,218.3 476.1,214.7 477.0,213.2 477.8,209.9 478.5,210.5 479.3,211.2 480,212.8 480.7,213.9 481.3,216.1 482,216.6 482.9,220.1 483.7,222.5 484.6,221.9 485.4,221.6 486.3,222.1 487.0,219.1 487.7,214.7 488.4,210.8 489.3,208.6 490.2,204.9 491.1,202.2 492,200.4 493.0,200.8 493.9,200.4 494.9,199.9 495.9,200.7 496.8,199.6 497.8,197.2 498.8,195.6 499.7,193.2 500.6,194.3 501.5,197.6 502.5,198.0 503.4,200.7 504.2,201.5 505.1,201.0 505.9,201.0 506.8,201.5 507.6,201.6 508.3,201.5 509.0,199.5 509.7,199.1 510.5,199.3 511.3,200.8 512.1,201.6 512.8,202.8 513.5,204.2 514.2,206.6 515.0,205.5 515.9,204.8 516.7,204.6 517.6,204.3 518.4,204.1 519.2,201.9 520.1,200.8 520.9,198.1 521.8,196.6 522.5,196.9 523.1,196.6 523.8,197.4 524.6,195.0 525.4,193.2 526.2,193.2 527.1,194.5 527.9,194.9 528.8,196.6 529.7,196.3 530.6,195.2 531.5,194.4 532.2,194.6 532.8,195.8 533.5,196.6 534.2,197.1 534.8,195.3 535.5,195.7 536.2,192.9 536.9,188.9 537.6,185.7 538.6,181.1 539.5,177.2 540.5,172 541.2,173.0 541.9,174.5 542.6,175.7 543.5,178.3 544.3,181.0 545.2,182.4 545.9,183.5 546.5,185.7 547.2,186.5 548.0,195.7 548.8,204.1 549.5,207.1 550.3,209.5 551,212.4 551.8,216.0 552.7,219.4 553.5,224.1 554.4,220.3 555.4,217.1 556.3,215.2 557.2,211.6 558.1,212.6 559.0,213.8 559.9,215.8 560.6,213.7 561.2,213.6 561.9,211.6 562.7,209.8 563.6,206.9 564.4,204.1 565.1,200.1 565.8,196.4 566.5,193.2 567.4,193.7 568.2,194.9 569.0,198.2 569.7,201.6 570.6,195.1 571.5,189.9 572.2,188.3 572.8,186.5 573.5,185.4 574.4,187.7 575.2,189.3 576.1,189.9 576.9,193.3 577.8,196.1 578.6,199.9 579.4,198.2 580.1,194.6 580.9,192.1 581.6,189.9 582.4,191.1 583.2,194.1 584.2,192.8 585.1,191.8 586.1,190.7 586.9,190.8 587.8,190.4 588.6,191.1 589.4,191.9 590.2,191.7 591.1,192.9 591.9,194.1 592.7,194.3 593.6,195.9 594.4,196.2 595.2,197.1 596.1,198.6 596.9,199.9 597.7,201.9 598.6,205.1 599.4,207.4 600.0,204.1 600.6,200.7 601.5,202.9 602.4,204.4 603.3,205.8 604.1,209.1 605,211.6 605.9,213.2 606.9,213.3 607.8,214.4 608.6,212.9 609.5,212.8 610.3,210.1 611.2,209.9 612,208.3 612.8,209.4 613.6,209.9 614.5,204.1 615.0,209.1 615.6,215.8 616.5,213.1 617.3,209.1 618.0,212.3 618.7,214.1 619.5,211.5 620.3,208.5 621.0,203.4 621.7,197.4 622.5,195.9 623.4,192.6 624.2,191.1 625,189 625.8,187.7 626.7,187.0 627.5,185.6 628.4,184.3 629.2,182.4 630.0,179.8 630.9,177.5 631.7,174 632.5,173.9 633.4,173.2 634.1,176.9 634.7,179.4 635.4,183.2 636.1,185.7 636.8,189.2 637.5,193.2 638.1,190.8 638.7,189 639.7,189.6 640.7,192.2 641.6,192.9 642.6,194.1 643.4,197.4 644.3,200.4 645.1,203.2 645.9,201.9 646.7,199.9 647.6,197.3 648.4,197.1 649.2,194.9 650.1,196.4 650.9,197.0 651.8,198.1 652.6,199.1 653.4,198.9 654.2,198.2 655.1,199.4 655.9,202.6 656.8,204.1 657.5,205.9 658.1,207.8 658.8,210.8 659.8,209.9 660.7,210.2 661.6,208.8 662.6,208.8 663.3,207.8 664.1,206.7 664.8,204.4 665.6,207.6 666.4,210.8 667.0,208.9 667.6,207.4 668.3,209.7 669.1,212.4 669.8,214.4 670.6,214.7 671.4,214.2 672.2,214.0 673.0,212.8 673.8,213.3 674.6,211.4 675.5,210.4 676.3,210.0 677.1,208.3 677.8,204.9 678.6,202.3 679.3,199.1 680.1,194.3 681.0,190.5 681.8,187.4 682.6,188.1 683.5,189.9 684.3,190.7 685.0,189.1 685.8,187.1 686.5,184.9 687.2,185.9 687.8,187.7 688.5,189 689.4,191.9 690.2,194.9 691.0,192.7 691.8,190.7 692.5,190.9 693.2,192.4 694.0,189.8 694.7,185.2 695.5,182.4 696.2,183.9 697.0,184.4 697.8,183.4 698.5,184.9 699.2,182.0 699.8,179.9 700.5,176.5 701.2,175.1 702.0,171.9 702.7,169.8 703.4,170.2 704.2,170.9 704.9,172.3 705.6,176.2 706.2,177.9 706.9,181.5 707.6,182.8 708.2,183.1 708.9,184.9 709.6,186.9 710.3,189.6 711,190.7 711.6,199.2 712.2,209.1 713.1,210.2 714.0,210.2 714.9,210.8 715.8,210.8 716.8,209.8 717.7,208.8 718.4,208.5 719.2,209.9 719.9,209.4 720.7,207.3 721.4,204.4 722.2,203.2 722.9,207.1 723.6,212.8 724.3,209.6 724.9,206.3 725.6,203.2 726.3,204.0 727.1,204.8 727.8,206.6 728.6,207.4 729.5,208.5 730.3,209.9 731.1,209.3 731.9,207.4 732.8,209.9 733.6,214.1 734.5,210.0 735.3,204.9 736.0,202.7 736.6,198.7 737.3,196.6 738.1,196.0 739.0,194.2 739.8,193.2 740.6,191.1 741.5,192.6 742.4,194.5 743.3,196.6 744.0,192.8 744.6,190.2 745.3,185.7 746.0,186.4 746.6,186.6 747.3,187.4 748.0,186.3 748.6,185.4 749.5,186.8 750.3,189 751.1,187 751.8,189.0 752.6,191.9 753.3,195.4 754.3,194.7 755.2,192.5 756.2,191.6 756.9,190.8 757.5,187.9 758.2,186.8 759.2,189.1 760.1,192.2 761.1,194.9 761.8,194.9 762.4,195.8 763.1,196.6 763.9,196.6 764.8,195.6 765.6,194.1 766.3,197.2 767.1,199.3 767.8,201.6 768.6,202.2 769.3,202.1 770.1,201.1 770.9,200.1 771.7,199.2 772.4,196.9 773.2,196.6 774.0,196.0 774.8,194.5 775.7,194.1 776.5,192.9 777.3,191.6 778.0,187.3 778.8,183.0 779.5,179.9 780.2,183.2 780.8,184.2 781.5,187.4 782.3,188.4 783.2,189.3 784,190.7 784.9,186.3 785.7,182.7 786.5,187.1 787.4,190.7 788.2,195.8 789,199.1 789.9,199.1 790.7,200.2 791.5,199.9 792.4,200.7 793.1,203.9 793.8,206.6 794.5,209.9 795.2,206.5 795.8,203.8 796.5,201.6 797.2,203.9 798.0,207.9 798.8,210.0 799.5,212.8 800.4,208.3 801.2,204.9 802.0,208.6 802.9,210.8 803.8,217.3 804.6,222.1 805.2,217.4 805.7,212.8 806.5,212.2 807.2,212.2 808.0,212.1 808.7,212.8" fill="none" stroke="url(#bg)" stroke-width="1" stroke-linejoin="bevel" transform="translate(0,0)"/>
<polyline points="66.3,201.6 66.9,200.2 67.5,199.4 68.3,198.7 69.2,199.5 70.0,198.4 70.9,199.1 71.7,199 72.7,198.4 73.6,197.4 74.6,197.8 75.6,196.6 76.5,196.9 77.5,196.6 78.3,196.2 79.2,197.4 80.0,198.3 80.9,200.6 81.7,202.4 82.7,203.8 83.7,203.4 84.7,204.4 85.6,206.0 86.6,207.4 87.6,207.4 88.4,211.2 89.2,214.5 90,218.3 90.9,218.3 91.7,215.8 92.6,215.8 93.4,217.1 94.2,216.7 95.1,217.0 95.9,218.3 96.8,216.6 97.6,218.4 98.4,221.3 99.3,224.7 100.1,226.6 100.9,221.4 101.8,217.4 102.5,217.8 103.1,218.3 103.8,218.3 104.7,216.8 105.6,215.8 106.5,213.6 107.4,212.3 108.2,211.3 109.1,210.8 110.0,209.1 110.9,207.6 111.8,206.6 112.6,207.3 113.5,207.6 114.3,208.3 115.2,209.0 116.2,210.9 117.1,211.8 118.0,212.0 119.0,213.6 119.9,214.6 120.9,216.2 121.8,216.6 122.7,216.2 123.5,214.6 124.3,215.0 125.2,213.3 126.0,214.7 126.8,217.4 127.5,214.5 128.1,212.3 128.8,209.1 129.7,213.5 130.5,219.1 131.2,218.5 132.0,217.0 132.8,217.5 133.5,216.6 134.5,214.7 135.5,212.0 136.4,210.2 137.4,206.8 138.4,205.1 139.4,202.4 140.2,203.8 141,204.9 141.8,202.5 142.7,199.9 143.6,199.8 144.4,199.9 145.2,203.5 146,205.8 146.7,211.0 147.3,214.6 148,219.1 149.0,220.6 149.9,220.8 150.9,223.2 151.9,224.1 152.9,226.4 153.8,229.0 154.8,230.8 155.7,231.8 156.7,234.0 157.6,236.6 158.6,238.3 159.4,233.5 160.3,230.4 161.1,226.6 161.8,224.9 162.5,223.7 163.2,223.3 164.1,228.8 164.9,235.8 165.6,233.5 166.2,229.6 166.9,227.5 167.7,224.2 168.6,221.7 169.4,219.1 170.1,215.9 170.9,210.5 171.6,207.4 172.2,211.1 172.8,214.9 173.6,214.5 174.5,214.5 175.3,213.3 176.1,211.1 177.0,208.4 177.8,204.9 178.6,204.1 179.4,203.9 180.3,203.4 181.1,203.2 181.9,210.6 182.8,217.4 183.6,223.3 184.5,217.4 185.3,216.3 186.1,215.8 187.0,215.4 187.8,214.9 188.6,214.9 189.4,212.7 190.3,210.7 191.1,208.3 191.9,208.3 192.8,209.1 193.5,204.0 194.3,200.6 195,196.6 195.7,197.2 196.3,198.4 197,199.1 197.8,199.1 198.7,197.8 199.5,196.6 200,195.7 200.7,197.8 201.3,199.9 201.9,206.4 202.5,212.4 203.3,214.7 204.2,215.5 205,218.3 205.8,221.8 206.7,224.3 207.5,226.6 208.4,219.1 209.2,222.3 210,224.1 210.7,225.1 211.4,225 211.9,231.1 212.5,237.5 213.3,233.6 214.2,230 214.9,227.6 215.5,226.9 216.2,225 216.9,225.0 217.7,225.9 218.4,227.5 219.2,225.7 220,225 221.0,227.5 221.9,230.8 222.9,234.2 223.8,224.6 224.7,216.6 225.4,214.9 226.0,214.3 226.7,214.1 227.6,213.8 228.4,214.9 229.2,213.6 230.1,212.8 230.9,216.8 231.7,222.5 232.4,221.1 233.2,218.5 233.9,215.6 234.7,214.1 235.5,213.7 236.4,214.0 237.2,214.1 238.1,214.4 238.9,211.9 239.8,210.8 240.6,212.9 241.4,213.8 242.4,210.9 243.3,206.1 244.3,202.4 245.1,198.0 246.0,193.0 246.8,189.4 247.6,190.2 248.4,192.4 249.3,198.2 250.1,199.5 250.9,200.9 251.8,203.4 252.6,204.4 253.6,201.0 254.6,197.9 255.5,196.8 256.5,193.2 257.4,195.8 258.4,197.6 259.3,200.7 260.0,199.4 260.8,197.1 261.5,196.6 262.4,198.9 263.4,201.9 264.3,203.2 265.1,205.3 266.0,206.4 266.8,207.4 267.5,210.2 268.1,213.6 268.8,217.1 269.6,213.7 270.5,211.9 271.4,208.7 272.2,205.8 272.9,210.2 273.6,213.2 274.3,217.4 275.0,213.9 275.8,211.9 276.5,208.3 277.2,209.0 277.8,208.6 278.5,207.8 279.4,205.7 280.2,203.0 281.0,200.2 281.9,197.1 282.6,198.6 283.3,201.2 284,203.2 285.0,199.9 285.9,196.3 286.9,194.1 287.7,194.1 288.5,195.7 289.5,193.4 290.4,191.4 291.4,189.9 292.0,192.3 292.7,194.1 293.5,202.0 294.4,208.3 295.2,208.7 296.1,210.2 296.9,209.9 297.6,210.2 298.4,209.5 299.1,207.8 299.9,207.4 300.6,209.7 301.2,212.5 301.9,215.8 302.7,219.2 303.6,223.1 304.4,227.5 305.2,225.9 306.1,224.6 306.9,222.1 307.8,223.0 308.8,222.5 309.7,223.1 310.7,223.6 311.6,223.3 312.4,219.4 313.1,217.3 313.9,213.8 314.8,213.0 315.7,211.2 316.6,209.1 317.5,211.8 318.5,213.5 319.4,215.8 320.1,213.7 320.9,213.2 321.6,211.1 322.5,213.0 323.3,216.1 324.1,218.6 325,220 325.7,219.8 326.3,219.8 327,220 327.8,222.5 328.7,223.7 329.5,225 330.2,221.0 330.9,217.6 331.6,214.9 332.3,216.8 332.9,220.7 333.6,222.5 334.5,222.2 335.3,220.8 336.1,221.8 337.0,224.7 337.8,225.8 338.5,223.3 339.3,219.4 340,215.8 340.8,214.5 341.7,213.9 342.5,212.8 343.4,211.2 344.4,210.0 345.3,209.9 346.0,214.6 346.8,218.0 347.5,221.6 348.2,219.4 349.0,217.9 349.7,214.9 350.6,219.2 351.6,224.5 352.5,228.3 353.2,226.8 354.0,223.6 354.7,222.1 355.6,224.3 356.6,227.0 357.5,230 358.4,224.1 359.2,219.1 360.0,215.7 360.9,211.5 361.7,208.3 362.5,205.8 363.4,202.8 364.2,201.1 365.0,204.2 365.9,205.6 366.7,208.3 367.5,203.5 368.4,199.0 369.2,194.1 370.0,194.8 370.9,194.1 371.8,189.8 372.6,185.7 373.5,187.5 374.5,187.7 375.4,188.7 376.1,191.1 376.9,193.4 377.6,195.7 378.5,194.0 379.3,194.1 380.1,195.9 381.0,197.4 381.8,199.9 382.6,200.3 383.3,202.9 384.1,203.1 384.8,204.9 385.7,203.2 386.7,202.0 387.6,199.9 388.4,196.7 389.3,192.9 390.1,189.9 391.0,193.7 391.8,197.4 392.6,197.6 393.5,198.1 394.3,196.9 395.1,197.7 395.9,199.6 396.8,200.9 397.6,203.2 398.5,207.0 399.3,211.6 400.0,215.7 400.8,218.9 401.5,222.5 402.1,229.3 402.6,235.8 403.5,236.8 404.3,237.7 405.2,237.5 406.0,235.7 406.8,234.2 407.6,235.7 408.5,236.7 409.3,235.7 410.1,234.6 411.0,233.9 411.8,232.5 412.6,229.1 413.5,225.9 414.3,222.5 415.0,221.3 415.8,221.0 416.5,219.1 417.2,221.0 417.8,222.9 418.5,223.8 419.3,225.0 420.2,224.2 421.0,225.1 421.9,226.2 422.7,225.8 423.4,227.8 424.2,227.9 424.9,230 425.6,227.4 426.2,226.0 426.9,224.1 427.7,225.4 428.5,228.3 429.2,226.2 429.9,225 430.7,227.1 431.5,230.8 432.4,232.2 433.4,233.4 434.3,234.7 435.2,235 436.0,231.9 436.9,230 437.8,229.9 438.6,229.1 439.4,223.5 440.2,217.4 441.0,217.2 441.9,218.3 442.6,216.2 443.2,213.5 443.9,209.9 444.9,207.9 445.9,207.8 446.8,205.4 447.8,204.1 448.6,204.1 449.5,205.0 450.3,204.1 451.1,209.1 452.0,212.4 452.8,217.4 453.6,218.4 454.5,219.7 455.3,220.8 456.0,218.0 456.6,215.3 457.3,213.3 458.0,215.0 458.6,217.4 459.5,215.9 460.5,212.8 461.4,211.9 462.3,209.9 463.0,210.8 463.8,211.0 464.5,212.8 465.4,212.4 466.4,212.8 467.4,212.5 468.3,212.4 468.9,214.1 469.5,217.4 470.1,212.9 470.6,206.6 471.3,208.5 472.1,210.2 472.8,210.8 473.6,212.6 474.5,215.4 475.3,218.3 476.1,214.7 477.0,213.2 477.8,209.9 478.5,210.5 479.3,211.2 480,212.8 480.7,213.9 481.3,216.1 482,216.6 482.9,220.1 483.7,222.5 484.6,221.9 485.4,221.6 486.3,222.1 487.0,219.1 487.7,214.7 488.4,210.8 489.3,208.6 490.2,204.9 491.1,202.2 492,200.4 493.0,200.8 493.9,200.4 494.9,199.9 495.9,200.7 496.8,199.6 497.8,197.2 498.8,195.6 499.7,193.2 500.6,194.3 501.5,197.6 502.5,198.0 503.4,200.7 504.2,201.5 505.1,201.0 505.9,201.0 506.8,201.5 507.6,201.6 508.3,201.5 509.0,199.5 509.7,199.1 510.5,199.3 511.3,200.8 512.1,201.6 512.8,202.8 513.5,204.2 514.2,206.6 515.0,205.5 515.9,204.8 516.7,204.6 517.6,204.3 518.4,204.1 519.2,201.9 520.1,200.8 520.9,198.1 521.8,196.6 522.5,196.9 523.1,196.6 523.8,197.4 524.6,195.0 525.4,193.2 526.2,193.2 527.1,194.5 527.9,194.9 528.8,196.6 529.7,196.3 530.6,195.2 531.5,194.4 532.2,194.6 532.8,195.8 533.5,196.6 534.2,197.1 534.8,195.3 535.5,195.7 536.2,192.9 536.9,188.9 537.6,185.7 538.6,181.1 539.5,177.2 540.5,172 541.2,173.0 541.9,174.5 542.6,175.7 543.5,178.3 544.3,181.0 545.2,182.4 545.9,183.5 546.5,185.7 547.2,186.5 548.0,195.7 548.8,204.1 549.5,207.1 550.3,209.5 551,212.4 551.8,216.0 552.7,219.4 553.5,224.1 554.4,220.3 555.4,217.1 556.3,215.2 557.2,211.6 558.1,212.6 559.0,213.8 559.9,215.8 560.6,213.7 561.2,213.6 561.9,211.6 562.7,209.8 563.6,206.9 564.4,204.1 565.1,200.1 565.8,196.4 566.5,193.2 567.4,193.7 568.2,194.9 569.0,198.2 569.7,201.6 570.6,195.1 571.5,189.9 572.2,188.3 572.8,186.5 573.5,185.4 574.4,187.7 575.2,189.3 576.1,189.9 576.9,193.3 577.8,196.1 578.6,199.9 579.4,198.2 580.1,194.6 580.9,192.1 581.6,189.9 582.4,191.1 583.2,194.1 584.2,192.8 585.1,191.8 586.1,190.7 586.9,190.8 587.8,190.4 588.6,191.1 589.4,191.9 590.2,191.7 591.1,192.9 591.9,194.1 592.7,194.3 593.6,195.9 594.4,196.2 595.2,197.1 596.1,198.6 596.9,199.9 597.7,201.9 598.6,205.1 599.4,207.4 600.0,204.1 600.6,200.7 601.5,202.9 602.4,204.4 603.3,205.8 604.1,209.1 605,211.6 605.9,213.2 606.9,213.3 607.8,214.4 608.6,212.9 609.5,212.8 610.3,210.1 611.2,209.9 612,208.3 612.8,209.4 613.6,209.9 614.5,204.1 615.0,209.1 615.6,215.8 616.5,213.1 617.3,209.1 618.0,212.3 618.7,214.1 619.5,211.5 620.3,208.5 621.0,203.4 621.7,197.4 622.5,195.9 623.4,192.6 624.2,191.1 625,189 625.8,187.7 626.7,187.0 627.5,185.6 628.4,184.3 629.2,182.4 630.0,179.8 630.9,177.5 631.7,174 632.5,173.9 633.4,173.2 634.1,176.9 634.7,179.4 635.4,183.2 636.1,185.7 636.8,189.2 637.5,193.2 638.1,190.8 638.7,189 639.7,189.6 640.7,192.2 641.6,192.9 642.6,194.1 643.4,197.4 644.3,200.4 645.1,203.2 645.9,201.9 646.7,199.9 647.6,197.3 648.4,197.1 649.2,194.9 650.1,196.4 650.9,197.0 651.8,198.1 652.6,199.1 653.4,198.9 654.2,198.2 655.1,199.4 655.9,202.6 656.8,204.1 657.5,205.9 658.1,207.8 658.8,210.8 659.8,209.9 660.7,210.2 661.6,208.8 662.6,208.8 663.3,207.8 664.1,206.7 664.8,204.4 665.6,207.6 666.4,210.8 667.0,208.9 667.6,207.4 668.3,209.7 669.1,212.4 669.8,214.4 670.6,214.7 671.4,214.2 672.2,214.0 673.0,212.8 673.8,213.3 674.6,211.4 675.5,210.4 676.3,210.0 677.1,208.3 677.8,204.9 678.6,202.3 679.3,199.1 680.1,194.3 681.0,190.5 681.8,187.4 682.6,188.1 683.5,189.9 684.3,190.7 685.0,189.1 685.8,187.1 686.5,184.9 687.2,185.9 687.8,187.7 688.5,189 689.4,191.9 690.2,194.9 691.0,192.7 691.8,190.7 692.5,190.9 693.2,192.4 694.0,189.8 694.7,185.2 695.5,182.4 696.2,183.9 697.0,184.4 697.8,183.4 698.5,184.9 699.2,182.0 699.8,179.9 700.5,176.5 701.2,175.1 702.0,171.9 702.7,169.8 703.4,170.2 704.2,170.9 704.9,172.3 705.6,176.2 706.2,177.9 706.9,181.5 707.6,182.8 708.2,183.1 708.9,184.9 709.6,186.9 710.3,189.6 711,190.7 711.6,199.2 712.2,209.1 713.1,210.2 714.0,210.2 714.9,210.8 715.8,210.8 716.8,209.8 717.7,208.8 718.4,208.5 719.2,209.9 719.9,209.4 720.7,207.3 721.4,204.4 722.2,203.2 722.9,207.1 723.6,212.8 724.3,209.6 724.9,206.3 725.6,203.2 726.3,204.0 727.1,204.8 727.8,206.6 728.6,207.4 729.5,208.5 730.3,209.9 731.1,209.3 731.9,207.4 732.8,209.9 733.6,214.1 734.5,210.0 735.3,204.9 736.0,202.7 736.6,198.7 737.3,196.6 738.1,196.0 739.0,194.2 739.8,193.2 740.6,191.1 741.5,192.6 742.4,194.5 743.3,196.6 744.0,192.8 744.6,190.2 745.3,185.7 746.0,186.4 746.6,186.6 747.3,187.4 748.0,186.3 748.6,185.4 749.5,186.8 750.3,189 751.1,187 751.8,189.0 752.6,191.9 753.3,195.4 754.3,194.7 755.2,192.5 756.2,191.6 756.9,190.8 757.5,187.9 758.2,186.8 759.2,189.1 760.1,192.2 761.1,194.9 761.8,194.9 762.4,195.8 763.1,196.6 763.9,196.6 764.8,195.6 765.6,194.1 766.3,197.2 767.1,199.3 767.8,201.6 768.6,202.2 769.3,202.1 770.1,201.1 770.9,200.1 771.7,199.2 772.4,196.9 773.2,196.6 774.0,196.0 774.8,194.5 775.7,194.1 776.5,192.9 777.3,191.6 778.0,187.3 778.8,183.0 779.5,179.9 780.2,183.2 780.8,184.2 781.5,187.4 782.3,188.4 783.2,189.3 784,190.7 784.9,186.3 785.7,182.7 786.5,187.1 787.4,190.7 788.2,195.8 789,199.1 789.9,199.1 790.7,200.2 791.5,199.9 792.4,200.7 793.1,203.9 793.8,206.6 794.5,209.9 795.2,206.5 795.8,203.8 796.5,201.6 797.2,203.9 798.0,207.9 798.8,210.0 799.5,212.8 800.4,208.3 801.2,204.9 802.0,208.6 802.9,210.8 803.8,217.3 804.6,222.1 805.2,217.4 805.7,212.8 806.5,212.2 807.2,212.2 808.0,212.1 808.7,212.8" fill="none" stroke="url(#bg)" stroke-width="1" stroke-linejoin="bevel" transform="translate(0,1)"/>

</g>

<text x="2.5" y="0" transform="translate(0,16) scale(1,1.1)">HPA042281</text>
<text x="2.5" y="0" transform="translate(0,46) scale(1,1.1)">HsID 10</text>
<text x="2.5" y="0" transform="translate(0,56) scale(1,1.1)">HsID 50</text>
<text x="2.5" y="0" transform="translate(0,176) scale(1,1.1)">Antigen-</text>
<text x="2.5" y="0" transform="translate(0,185.5) scale(1,1.1)">icity</text>
<text x="2.5" y="0" transform="translate(0,261) scale(1,1.1)">MDM</text>
<text x="2.5" y="0" transform="translate(0,271) scale(1,1.1)">MDSP</text>
<text x="2.5" y="0" transform="translate(0,286) scale(1,1.1)">Common</text>
<text x="2.5" y="0" transform="translate(0,296) scale(1,1.1)">LC-reg.</text>
<text x="2.5" y="0" transform="translate(0,306) scale(1,1.1)">IP-reg.</text>
<text x="2.5" y="0" transform="translate(0,383) scale(1,1.1)">Protein</text>
<text x="819.5" y="0" transform="translate(0,56) scale(1,1.1)">100%</text>
<text x="819.5" y="0" transform="translate(0,94) scale(1,1.1)">60%</text>
<text x="819.5" y="0" transform="translate(0,154) scale(1,1.1)">0%</text>
<text x="58.8" y="0" transform="translate(0,395) scale(1,1.1)">1</text>
<text x="124.80000000000001" y="0" transform="translate(0,395) scale(1,1.1)">51</text>
<text x="189.8" y="0" transform="translate(0,395) scale(1,1.1)">101</text>
<text x="257.8" y="0" transform="translate(0,395) scale(1,1.1)">151</text>
<text x="326.8" y="0" transform="translate(0,395) scale(1,1.1)">201</text>
<text x="394.8" y="0" transform="translate(0,395) scale(1,1.1)">251</text>
<text x="462.8" y="0" transform="translate(0,395) scale(1,1.1)">301</text>
<text x="531.8" y="0" transform="translate(0,395) scale(1,1.1)">351</text>
<text x="599.8" y="0" transform="translate(0,395) scale(1,1.1)">401</text>
<text x="668.8" y="0" transform="translate(0,395) scale(1,1.1)">451</text>
<text x="736.8" y="0" transform="translate(0,395) scale(1,1.1)">501</text>
<text x="804.8" y="0" transform="translate(0,395) scale(1,1.1)">551</text>

</svg>
</body>
</html>
